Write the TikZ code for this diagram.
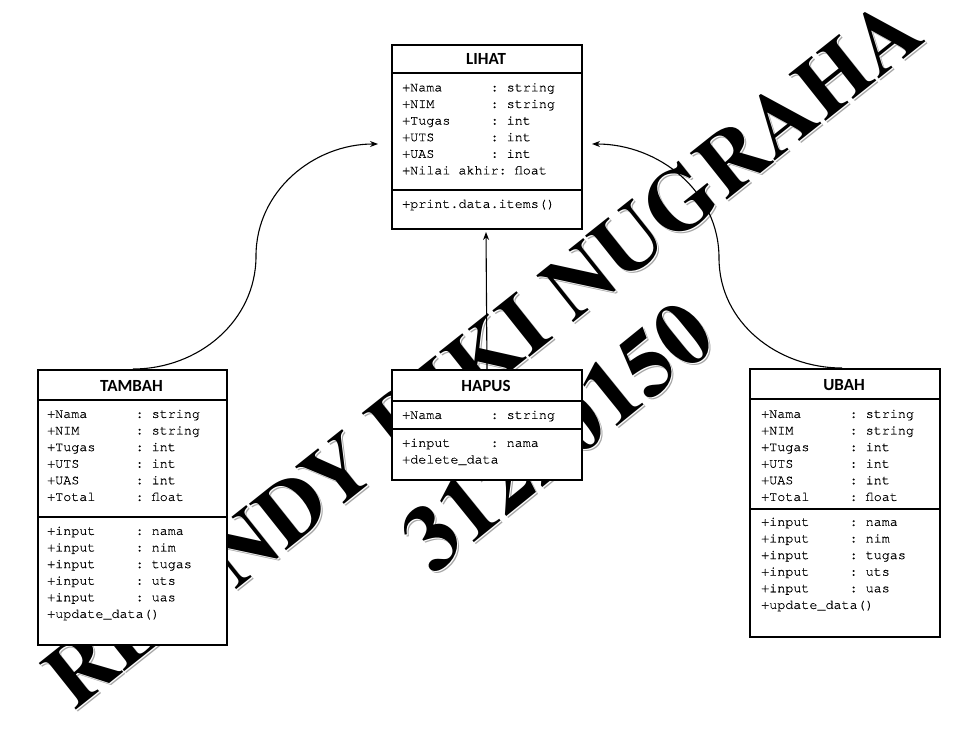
\documentclass[tikz,border=0pt]{standalone}
\usepackage{fontspec}
\setmainfont{Liberation Serif}
\setmonofont{texgyrecursor-regular.otf}[FakeBold=0.5]
\newfontfamily\titlefont{Carlito}
\newfontfamily\wmfont{texgyretermes-bold.otf}
\usetikzlibrary{arrows.meta,calc}
\newcommand\fld[2]{\makebox[6.6em][l]{#1}: #2}
\tikzset{
  classbox/.style={draw, line width=1.6pt, fill=white, inner sep=0pt, anchor=north west},
  sepline/.style={line width=1.6pt},
  titletext/.style={font=\titlefont\bfseries\fontsize{17}{18}\selectfont, inner sep=0pt},
  rowtext/.style={font=\ttfamily\fontsize{13.4}{16.6}\selectfont, align=left, inner sep=0pt, anchor=north west},
  conn/.style={line width=1.1pt, -{Stealth[length=8pt,width=6pt]}},
  wm/.style={font=\wmfont\fontsize{88}{88}\selectfont, inner sep=0pt, rotate=38.5},
  wmb/.style={font=\wmfont\fontsize{92}{92}\selectfont, inner sep=0pt, rotate=39},
  wmshadow/.style={text=black!35},
  wmgap/.style={text=white},
}
\begin{document}
\begin{tikzpicture}[x=1pt,y=-1pt]
\useasboundingbox (0,0) rectangle (976,751);
\fill[white] (0,0) rectangle (976,751);
% watermark, line 1
\node[wm, wmshadow, anchor=base west] (wm0s) at (76,714) {RE};
\node[wm, wmgap, anchor=base west] (wm0w) at (75,713) {RE};
\node[wm, anchor=base west] (wm0) at (74,712) {RE};
\node[wm, wmshadow, anchor=base east] (wm1s) at (930,42) {NDY RIKI NUGRAHA};
\node[wm, wmgap, anchor=base east] (wm1w) at (929,41) {NDY RIKI NUGRAHA};
\node[wm, anchor=base east] (wm1) at (928,40) {NDY RIKI NUGRAHA};
% watermark, line 2
\node[wmb, wmshadow, anchor=base east] (wm2s) at (722,346) {31220150};
\node[wmb, wmgap, anchor=base east] (wm2w) at (721,345) {31220150};
\node[wmb, anchor=base east] (wm2) at (720,344) {31220150};
% boxes
\node[classbox, minimum width=190pt, minimum height=184pt] (lihat) at (391,44) {};
\node[classbox, minimum width=189pt, minimum height=275pt] (tambah) at (37,369) {};
\node[classbox, minimum width=190pt, minimum height=110pt] (hapus) at (391,369) {};
\node[classbox, minimum width=190pt, minimum height=268pt] (ubah) at (749,368) {};
\draw[sepline] (391,73) -- (581,73) (391,190) -- (581,190);
\draw[sepline] (37,400) -- (226,400) (37,517) -- (226,517);
\draw[sepline] (391,401) -- (581,401) (391,429) -- (581,429);
\draw[sepline] (749,399) -- (939,399) (749,509) -- (939,509);
% titles
\node[titletext] (lihat-t) at (486,59) {LIHAT};
\node[titletext] (tambah-t) at (131.5,386) {TAMBAH};
\node[titletext] (hapus-t) at (486,386) {HAPUS};
\node[titletext] (ubah-t) at (844,385) {UBAH};
% rows
\node[rowtext] (lihat-a) at (402,83) {\fld{+Nama}{string}\\ \fld{+NIM}{string}\\ \fld{+Tugas}{int}\\ \fld{+UTS}{int}\\ \fld{+UAS}{int}\\ +Nilai akhir: float};
\node[rowtext] (lihat-o) at (402,199.5) {+print.data.items()};
\node[rowtext] (tambah-a) at (47,409.5) {\fld{+Nama}{string}\\ \fld{+NIM}{string}\\ \fld{+Tugas}{int}\\ \fld{+UTS}{int}\\ \fld{+UAS}{int}\\ \fld{+Total}{float}};
\node[rowtext] (tambah-o) at (47,526.5) {\fld{+input}{nama}\\ \fld{+input}{nim}\\ \fld{+input}{tugas}\\ \fld{+input}{uts}\\ \fld{+input}{uas}\\ +update\_data()};
\node[rowtext] (hapus-a) at (402,410.5) {\fld{+Nama}{string}};
\node[rowtext] (hapus-o) at (402,438.5) {\fld{+input}{nama}\\ +delete\_data};
\node[rowtext] (ubah-a) at (761,409.5) {\fld{+Nama}{string}\\ \fld{+NIM}{string}\\ \fld{+Tugas}{int}\\ \fld{+UTS}{int}\\ \fld{+UAS}{int}\\ \fld{+Total}{float}};
\node[rowtext] (ubah-o) at (761,517.5) {\fld{+input}{nama}\\ \fld{+input}{nim}\\ \fld{+input}{tugas}\\ \fld{+input}{uts}\\ \fld{+input}{uas}\\ +update\_data()};
% connectors
\coordinate (tipL) at (378,144);
\coordinate (tipR) at (592,144);
\coordinate (tipM) at (486,232);
\coordinate (midL) at (256,256);
\coordinate (midR) at (719,258);
\draw[conn] (tambah.north -| 133,0) to[out=0,in=-90] (midL) to[out=90,in=180] (tipL);
\draw[conn] (ubah.north -| 842,0) to[out=180,in=-90] (midR) to[out=90,in=0] (tipR);
\draw[conn] (hapus.north -| 487,0) -- (tipM);
\end{tikzpicture}
\end{document}
